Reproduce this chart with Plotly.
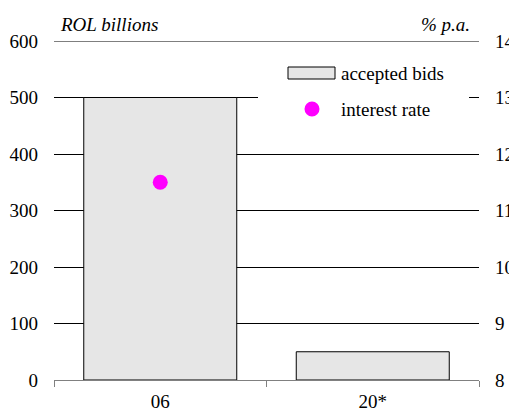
import plotly.graph_objects as go

categories = ["06", "20*"]
accepted_bids = [500, 50]
interest_rate = [11.5, None]
left_ticks = [0, 100, 200, 300, 400, 500, 600]
right_ticks = [8, 9, 10, 11, 12, 13, 14]

FONT = "Liberation Serif, Times New Roman, serif"
FS = 19

# page body has an 8px margin; lay out in window pixels and compensate
OFF = 8
W, H = 517 - OFF, 412 - OFF
L, T = 54 - OFF, 41 - OFF
pw, ph = 479 - 54, 380 - 41
R = W - L - pw
B = H - T - ph


def px(xw):
    return (xw - OFF - L) / pw


def py(yw):
    return (H - B - (yw - OFF)) / ph


fig = go.Figure()
fig.add_trace(go.Bar(
    x=categories, y=accepted_bids, name="accepted bids",
    marker=dict(color="#e6e6e6", line=dict(color="black", width=1)),
    width=0.72, showlegend=False, yaxis="y",
))
fig.add_trace(go.Scatter(
    x=categories, y=interest_rate, name="interest rate", mode="markers",
    marker=dict(color="#ff00ff", size=15, line=dict(width=0)), showlegend=False, yaxis="y2",
))

shapes = [
    # top gridline
    dict(type="line", xref="paper", yref="y", x0=0, x1=1, y0=600, y1=600,
         line=dict(color="black", width=1), layer="between"),
    # legend background
    dict(type="rect", xref="paper", yref="paper", x0=px(258), x1=px(469), y0=py(130), y1=py(50),
         fillcolor="white", line=dict(width=0), layer="above"),
    # legend bar glyph
    dict(type="rect", xref="paper", yref="paper", x0=px(288), x1=px(335), y0=py(79), y1=py(67),
         fillcolor="#e6e6e6", line=dict(color="black", width=1), layer="above"),
    # legend dot glyph
    dict(type="circle", xref="paper", yref="paper", x0=px(304.5), x1=px(319.5), y0=py(116.5), y1=py(101.5),
         fillcolor="#ff00ff", line=dict(width=0), layer="above"),
]

tfont = dict(size=FS, family=FONT, color="black")
annotations = [
    dict(text="<i>ROL billions</i>", xref="paper", yref="paper", x=px(58), y=py(24),
         xanchor="left", yanchor="middle", showarrow=False, font=tfont),
    dict(text="<i>% p.a.</i>", xref="paper", yref="paper", x=px(472), y=py(24),
         xanchor="right", yanchor="middle", showarrow=False, font=tfont),
    dict(text="accepted bids", xref="paper", yref="paper", x=px(339), y=py(73),
         xanchor="left", yanchor="middle", showarrow=False, font=tfont),
    dict(text="interest rate", xref="paper", yref="paper", x=px(339), y=py(109),
         xanchor="left", yanchor="middle", showarrow=False, font=tfont),
]

fig.update_layout(
    width=W, height=H,
    margin=dict(l=L, r=R, t=T, b=B, pad=0, autoexpand=False),
    paper_bgcolor="white", plot_bgcolor="white",
    font=dict(family=FONT, size=FS, color="black"),
    showlegend=False,
    xaxis=dict(
        type="category", showline=True, linecolor="#808080", linewidth=1,
        ticks="outside", tickson="boundaries", ticklen=6, tickcolor="#808080",
        showgrid=False, zeroline=False, layer="above traces",
        tickfont=tfont, ticklabelstandoff=4, automargin=False,
    ),
    yaxis=dict(
        range=[0, 600], tickvals=left_ticks, showgrid=True, gridcolor="black", gridwidth=1,
        zeroline=False, showline=False, ticks="", ticklabelstandoff=15,
        tickfont=tfont, automargin=False,
    ),
    yaxis2=dict(
        range=[8, 14], tickvals=right_ticks, overlaying="y", side="right",
        showgrid=False, zeroline=False, showline=False, ticks="", ticklabelstandoff=15,
        tickfont=tfont, automargin=False,
    ),
    shapes=shapes, annotations=annotations,
)

fig.write_html("out.html")
